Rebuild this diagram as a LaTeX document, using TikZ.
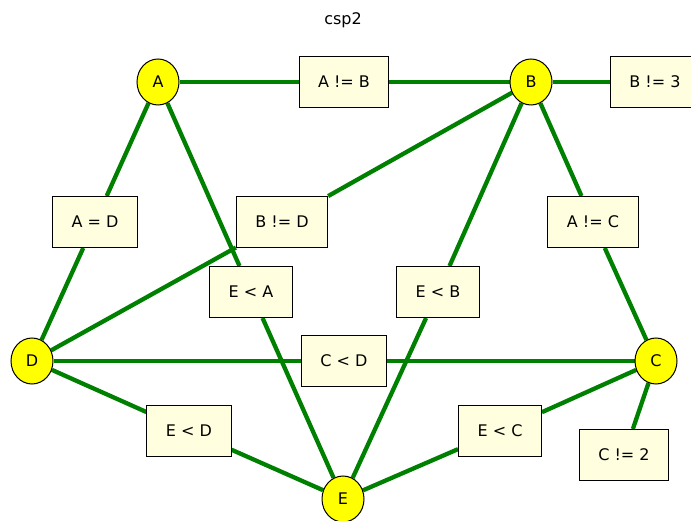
\documentclass[tikz,border=0pt]{standalone}
\usepackage{fontspec}
\setmainfont{DejaVu Sans}
\usetikzlibrary{shapes.geometric,backgrounds}
\definecolor{VarClr}{rgb}{1,1,0}
\definecolor{ConClr}{rgb}{1,1,0.88}
\definecolor{EdgeClr}{rgb}{0,0.5,0}

\begin{document}
\begin{tikzpicture}[x=1pt,y=-1pt,
  var/.style={ellipse,draw=black,line width=1pt,fill=VarClr,minimum width=42pt,minimum height=46pt,inner sep=0pt,font=\fontsize{16}{19}\selectfont},
  con/.style={rectangle,draw=black,line width=1pt,fill=ConClr,minimum height=51pt,inner xsep=19pt,font=\fontsize{16}{19}\selectfont},
  link/.style={line width=4.3pt,color=EdgeClr}]
\useasboundingbox (0,0) rectangle (691,521);

\node[font=\fontsize{16}{19}\selectfont] (title) at (343,20) {csp2};

% variables
\node[var] (A) at (158,82) {A};
\node[var] (B) at (531,82) {B};
\node[var] (C) at (656,361) {C};
\node[var] (D) at (32,361) {D};
\node[var] (E) at (343,499) {E};

% constraints
\node[con] (AneB) at (344,82) {A != B};
\node[con] (Bne3) at (655,82) {B != 3};
\node[con] (AeqD) at (95,222) {A = D};
\node[con] (BneD) at (282,222) {B != D};
\node[con] (AneC) at (593,222) {A != C};
\node[con] (EltA) at (251,292) {E < A};
\node[con] (EltB) at (438,292) {E < B};
\node[con] (CltD) at (344,361) {C < D};
\node[con] (EltD) at (189,431) {E < D};
\node[con] (EltC) at (500,431) {E < C};
\node[con] (Cne2) at (624,455) {C != 2};

\begin{scope}[on background layer]
\draw[link] (A) -- (AneB) -- (B);
\draw[link] (B) -- (Bne3);
\draw[link] (A) -- (AeqD) -- (D);
\draw[link] (B) -- (BneD) -- (D);
\draw[link] (B) -- (AneC) -- (C);
\draw[link] (A) -- (EltA) -- (E);
\draw[link] (B) -- (EltB) -- (E);
\draw[link] (D) -- (CltD) -- (C);
\draw[link] (D) -- (EltD) -- (E);
\draw[link] (E) -- (EltC) -- (C);
\draw[link] (C) -- (Cne2);
\end{scope}

\end{tikzpicture}
\end{document}
